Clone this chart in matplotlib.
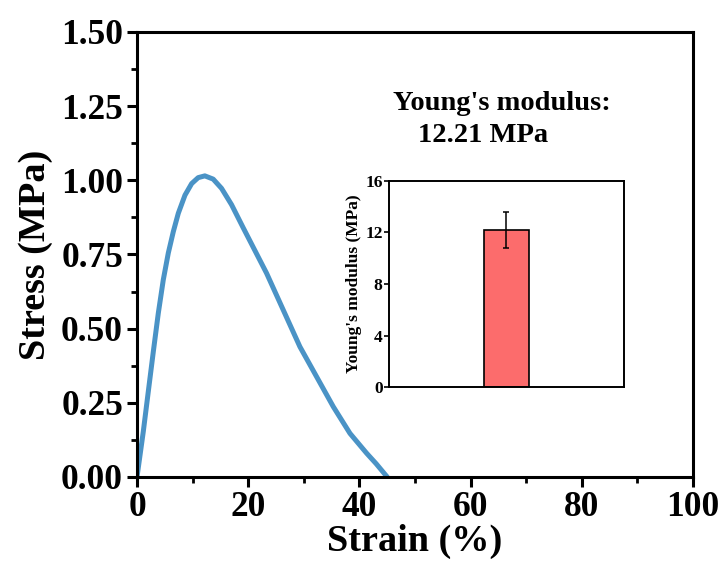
import matplotlib
matplotlib.use("Agg")
import matplotlib.pyplot as plt
from matplotlib.ticker import MultipleLocator, FormatStrFormatter

plt.rcParams['font.family'] = ['Liberation Serif', 'DejaVu Serif']
plt.rcParams['font.weight'] = 'bold'

strain = [0, 1.13, 2.03, 2.93, 3.83, 4.73, 5.63, 6.53, 7.43, 8.63, 9.83, 11.0, 12.2,
          13.7, 15.2, 17.0, 19.1, 23.3, 26.3, 29.3, 32.3, 35.3, 38.3, 41.3, 43.0, 45.0]
stress = [0, 0.153, 0.288, 0.422, 0.552, 0.665, 0.755, 0.827, 0.889, 0.950, 0.989, 1.009, 1.015,
          1.004, 0.973, 0.918, 0.840, 0.687, 0.563, 0.439, 0.338, 0.237, 0.147, 0.08, 0.045, 0.0]

modulus_cat = [0]
modulus_val = [12.21]
modulus_err = [1.4]

fig = plt.figure(figsize=(7.23, 5.70), dpi=100)
ax = fig.add_axes([0.1895, 0.1632, 0.769, 0.7807])
ax.plot(strain, stress, color='#4a93c6', lw=3.6, solid_capstyle='round', solid_joinstyle='round')
ax.set_xlim(0, 100)
ax.set_ylim(0, 1.5)
ax.xaxis.set_major_locator(MultipleLocator(20))
ax.xaxis.set_minor_locator(MultipleLocator(10))
ax.yaxis.set_major_locator(MultipleLocator(0.25))
ax.yaxis.set_minor_locator(MultipleLocator(0.125))
ax.yaxis.set_major_formatter(FormatStrFormatter('%.2f'))
for s in ax.spines.values():
    s.set_linewidth(2.2)
ax.tick_params(which='major', direction='out', length=7, width=2.2, labelsize=25.5, pad=3)
ax.tick_params(which='minor', direction='out', length=4, width=2.0)
ax.tick_params(top=False, right=False)
ax.set_xlabel('Strain (%)', fontsize=27.5, fontweight='bold', labelpad=0)
ax.set_ylabel('Stress (MPa)', fontsize=27.5, fontweight='bold', labelpad=6)

ax.text(0.460, 0.825, "Young's modulus:", transform=ax.transAxes, ha='left', va='baseline',
        fontsize=20.5, fontweight='bold')
ax.text(0.505, 0.753, "12.21 MPa", transform=ax.transAxes, ha='left', va='baseline',
        fontsize=20.5, fontweight='bold')

ins = fig.add_axes([0.538, 0.321, 0.325, 0.3615])
ins.bar(modulus_cat, modulus_val, width=0.39, color='#fc6c6c', edgecolor='black', linewidth=1.2,
        yerr=modulus_err, error_kw=dict(ecolor='black', elinewidth=1.1, capsize=2.5, capthick=1.1))
ins.set_xlim(-1, 1)
ins.set_ylim(0, 16)
ins.yaxis.set_major_locator(MultipleLocator(4))
ins.set_xticks([])
for s in ins.spines.values():
    s.set_linewidth(1.4)
ins.tick_params(axis='y', direction='out', length=3.5, width=1.2, labelsize=12.5, pad=1)
ins.set_ylabel("Young's modulus (MPa)", fontsize=12.5, fontweight='bold', labelpad=2)

fig.savefig('out.png', dpi=100)
